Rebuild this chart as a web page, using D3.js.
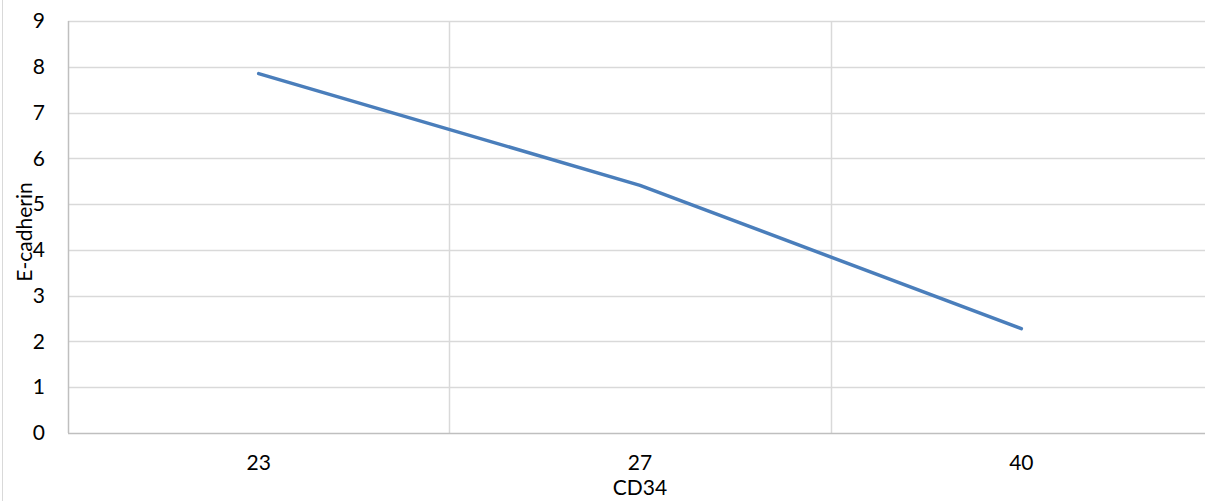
<!DOCTYPE html>
<html><head><meta charset="utf-8">
<script src="https://cdn.jsdelivr.net/npm/d3@7"></script>
<style>body{margin:0;background:#fff;}svg{display:block;}text{font-family:Lato,"Open Sans",sans-serif;}</style>
</head><body>
<svg id="c" width="1205" height="501"></svg>
<script>
const categories = ["23", "27", "40"];
const values = [7.85, 5.41, 2.28];
const yTicks = [0,1,2,3,4,5,6,7,8,9];
const xTitle = "CD34";
const yTitle = "E-cadherin";

(function(){
const svg = d3.select("#c");
const mLeft = 68, mRight = 1212, mTop = 21, mBottom = 433;
const fs = 21;
const x = d3.scaleBand().domain(categories).range([mLeft, mRight]).padding(0);
const y = d3.scaleLinear().domain([0, 9]).range([mBottom, mTop]);

svg.append("line").attr("x1",2.5).attr("x2",2.5).attr("y1",0).attr("y2",501).attr("stroke","#d9d9d9").attr("stroke-width",1);

svg.append("g").selectAll("line").data(yTicks.filter(d=>d>0)).join("line")
  .attr("x1",mLeft).attr("x2",mRight).attr("y1",d=>Math.round(y(d))+0.5).attr("y2",d=>Math.round(y(d))+0.5)
  .attr("stroke","#d9d9d9").attr("stroke-width",1.5);
svg.append("g").selectAll("line").data(categories.slice(1)).join("line")
  .attr("x1",d=>Math.round(x(d))+0.5).attr("x2",d=>Math.round(x(d))+0.5).attr("y1",mTop).attr("y2",mBottom)
  .attr("stroke","#d9d9d9").attr("stroke-width",1.5);

svg.append("line").attr("x1",mLeft+0.5).attr("x2",mLeft+0.5).attr("y1",mTop).attr("y2",mBottom).attr("stroke","#bfbfbf").attr("stroke-width",1.5);
svg.append("line").attr("x1",mLeft).attr("x2",mRight).attr("y1",mBottom+0.5).attr("y2",mBottom+0.5).attr("stroke","#bfbfbf").attr("stroke-width",1.5);

const yAxis = d3.axisLeft(y).tickValues(yTicks).tickSize(0).tickPadding(0);
const gy = svg.append("g").attr("transform",`translate(45,0)`).call(yAxis);
gy.select(".domain").remove();
gy.selectAll("text").attr("font-size",fs).attr("fill","#000").attr("font-family","Lato,'Open Sans',sans-serif");

const xAxis = d3.axisBottom(x).tickSize(0).tickPadding(0);
const gx = svg.append("g").attr("transform",`translate(0,455)`).call(xAxis);
gx.select(".domain").remove();
gx.selectAll("text").attr("font-size",fs).attr("fill","#000").attr("font-family","Lato,'Open Sans',sans-serif");

const line = d3.line().x((d,i)=>x(categories[i])+x.bandwidth()/2).y(d=>y(d));
svg.append("path").datum(values).attr("d",line).attr("fill","none")
  .attr("stroke","#4a7ebb").attr("stroke-width",3.5).attr("stroke-linejoin","round").attr("stroke-linecap","round");

svg.append("text").attr("x",x("27")+x.bandwidth()/2).attr("y",495).attr("text-anchor","middle").attr("font-size",fs).text(xTitle);
svg.append("text").attr("transform",`translate(32,232) rotate(-90)`).attr("text-anchor","middle").attr("font-size",fs).text(yTitle);
})();
</script>
</body></html>
